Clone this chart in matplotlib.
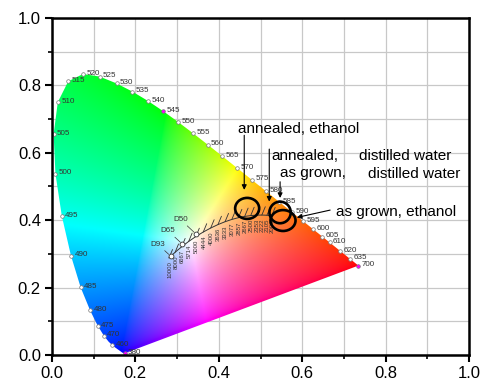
import numpy as np
import matplotlib
matplotlib.use("Agg")
import matplotlib.pyplot as plt
from matplotlib.patches import Polygon, Ellipse

plt.rcParams['font.family'] = ['Liberation Sans', 'DejaVu Sans']

# CIE 1931 spectral locus (wavelength nm, x, y)
wl = [380, 385, 390, 395, 400, 405, 410, 415, 420, 425, 430, 435, 440, 445, 450, 455,
      460, 465, 470, 475, 480, 485, 490, 495, 500, 505, 510, 515, 520, 525, 530, 535,
      540, 545, 550, 555, 560, 565, 570, 575, 580, 585, 590, 595, 600, 605, 610, 615,
      620, 625, 630, 635, 640, 645, 650, 655, 660, 665, 670, 675, 680, 685, 690, 695, 700]
loc_x = [0.1741, 0.1740, 0.1738, 0.1736, 0.1733, 0.1730, 0.1726, 0.1721, 0.1714, 0.1703,
         0.1689, 0.1669, 0.1644, 0.1611, 0.1566, 0.1510, 0.1440, 0.1355, 0.1241, 0.1096,
         0.0913, 0.0687, 0.0454, 0.0235, 0.0082, 0.0039, 0.0139, 0.0389, 0.0743, 0.1142,
         0.1547, 0.1929, 0.2296, 0.2658, 0.3016, 0.3373, 0.3731, 0.4087, 0.4441, 0.4788,
         0.5125, 0.5448, 0.5752, 0.6029, 0.6270, 0.6482, 0.6658, 0.6801, 0.6915, 0.7006,
         0.7079, 0.7140, 0.7190, 0.7230, 0.7260, 0.7283, 0.7300, 0.7311, 0.7320, 0.7327,
         0.7334, 0.7340, 0.7344, 0.7346, 0.7347]
loc_y = [0.0050, 0.0050, 0.0049, 0.0049, 0.0048, 0.0048, 0.0048, 0.0048, 0.0051, 0.0058,
         0.0069, 0.0086, 0.0109, 0.0138, 0.0177, 0.0227, 0.0297, 0.0399, 0.0578, 0.0868,
         0.1327, 0.2007, 0.2950, 0.4127, 0.5384, 0.6548, 0.7502, 0.8120, 0.8338, 0.8262,
         0.8059, 0.7816, 0.7543, 0.7243, 0.6923, 0.6589, 0.6245, 0.5896, 0.5547, 0.5202,
         0.4866, 0.4544, 0.4242, 0.3965, 0.3725, 0.3514, 0.3340, 0.3197, 0.3083, 0.2993,
         0.2920, 0.2859, 0.2809, 0.2770, 0.2740, 0.2717, 0.2700, 0.2689, 0.2680, 0.2673,
         0.2666, 0.2660, 0.2656, 0.2654, 0.2653]
labeled_wl = [380, 460, 470, 475, 480, 485, 490, 495, 500, 505, 510, 515, 520, 525, 530,
              535, 540, 545, 550, 555, 560, 565, 570, 575, 580, 585, 590, 595, 600, 605,
              610, 620, 635, 700]

# Planckian locus
cct = [10000, 8000, 6667, 5714, 5000, 4444, 4000, 3636, 3333, 3077, 2857, 2667, 2500,
       2353, 2222, 2105, 2000]
pl_x = [0.2807, 0.2952, 0.3110, 0.3277, 0.3450, 0.3627, 0.3805, 0.3980, 0.4150, 0.4313,
        0.4470, 0.4620, 0.4765, 0.4902, 0.5032, 0.5154, 0.5269]
pl_y = [0.2883, 0.3048, 0.3212, 0.3369, 0.3516, 0.3649, 0.3767, 0.3870, 0.3955, 0.4023,
        0.4075, 0.4112, 0.4137, 0.4150, 0.4153, 0.4147, 0.4133]

# Standard illuminants
ill_names = ['D93', 'D65', 'D50']
ill_x = [0.2848, 0.3127, 0.3457]
ill_y = [0.2932, 0.3290, 0.3585]

# Sample chromaticities (circles)
sample_x = [0.468, 0.547, 0.554]
sample_y = [0.435, 0.423, 0.399]

fig = plt.figure(figsize=(4.89, 3.83), dpi=100)
ax = fig.add_axes([52/489, 28/383, 417/489, 337/383])

# colour fill (CIE RGB primaries, max-normalised)
N = 500
gx = np.linspace(0.0, 0.76, N)
gy = np.linspace(0.002, 0.86, N)
GX, GY = np.meshgrid(gx, gy)
Xc = GX / GY
Yc = np.ones_like(GX)
Zc = (1 - GX - GY) / GY
M = np.array([[2.36461, -0.89654, -0.46807],
              [-0.51517, 1.42641, 0.08876],
              [0.00520, -0.01441, 1.00920]])
rgb = np.einsum('ij,jkl->kli', M, np.array([Xc, Yc, Zc]))
rgb = np.clip(rgb, 0, None)
rgb = rgb / np.maximum(rgb.max(axis=2, keepdims=True), 1e-9)
rgb = np.power(rgb, 0.62)
rgb = np.clip(rgb, 0, 1)
im = ax.imshow(rgb, extent=[gx[0], gx[-1], gy[0], gy[-1]], origin='lower',
               aspect='auto', zorder=1, interpolation='bilinear')
poly = Polygon(np.column_stack([loc_x, loc_y]), closed=True, transform=ax.transData,
               facecolor='none', edgecolor='none')
ax.add_patch(poly)
im.set_clip_path(poly)

# wavelength markers and labels
for w in labeled_wl:
    i = wl.index(w)
    fc = 'magenta' if w in (380, 545, 700) else 'white'
    ax.plot(loc_x[i], loc_y[i], 'o', ms=2.6, mfc=fc, mec='#777777', mew=0.5, zorder=4)
    ax.annotate(str(w), (loc_x[i], loc_y[i]), xytext=(2.5, 0.5), textcoords='offset points',
                fontsize=5.8, color='#333333', va='center', ha='left', zorder=5)

# Planckian locus
ax.plot(pl_x, pl_y, color='#333333', lw=0.7, zorder=3)
for t, px, py in zip(cct, pl_x, pl_y):
    ax.annotate('', xy=(px, py), xytext=(2.5, 6), textcoords='offset points',
                arrowprops=dict(arrowstyle='-', lw=0.6, color='#333333', shrinkA=0, shrinkB=0),
                zorder=3)
    ax.annotate(str(t), (px, py), xytext=(0.5, -2.5), textcoords='offset points',
                rotation=90, fontsize=4.3, color='#333333', ha='center', va='top', zorder=3)

# illuminants
ill_off = [(-4, 6), (-5, 7), (-6, 8)]
for n, ix, iy, off in zip(ill_names, ill_x, ill_y, ill_off):
    ax.plot(ix, iy, 'o', ms=3.5, mfc='white', mec='#333333', mew=0.6, zorder=4)
    ax.annotate(n, (ix, iy), xytext=off, textcoords='offset points', fontsize=5.8,
                color='#333333', ha='right', va='bottom',
                arrowprops=dict(arrowstyle='-', lw=0.5, color='#333333', shrinkA=0, shrinkB=2),
                zorder=4)

# sample circles
ell_w = [0.0576, 0.051, 0.060]
ell_h = [0.0623, 0.064, 0.062]
for sx, sy, w, h in zip(sample_x, sample_y, ell_w, ell_h):
    ax.add_patch(Ellipse((sx, sy), w, h, fill=False, lw=1.9, ec='black', zorder=6))

# annotations
txt_kw = dict(fontsize=11, color='black', ha='left', va='baseline', zorder=7)
ax.text(0.446, 0.660, 'annealed, ethanol', **txt_kw)
ax.text(0.526, 0.580, 'annealed,', **txt_kw)
ax.text(0.736, 0.580, 'distilled water', **txt_kw)
ax.text(0.546, 0.527, 'as grown,', **txt_kw)
ax.text(0.758, 0.524, 'distilled water', **txt_kw)
ax.text(0.682, 0.411, 'as grown, ethanol', **txt_kw)

arr = dict(arrowstyle='-|>', lw=0.8, color='black', mutation_scale=7, shrinkA=0, shrinkB=0)
ax.annotate('', xy=(0.461, 0.490), xytext=(0.461, 0.652), arrowprops=arr, zorder=7)
ax.annotate('', xy=(0.521, 0.455), xytext=(0.521, 0.611), arrowprops=arr, zorder=7)
ax.annotate('', xy=(0.547, 0.466), xytext=(0.547, 0.514), arrowprops=arr, zorder=7)
ax.annotate('', xy=(0.587, 0.408), xytext=(0.667, 0.430), arrowprops=arr, zorder=7)

# axes styling
ax.set_xlim(0, 1)
ax.set_ylim(0, 1)
ax.set_xticks(np.arange(0, 1.01, 0.2))
ax.set_yticks(np.arange(0, 1.01, 0.2))
ax.set_xticks(np.arange(0.1, 1.0, 0.2), minor=True)
ax.set_yticks(np.arange(0.1, 1.0, 0.2), minor=True)
ax.set_xticklabels(['0.0', '0.2', '0.4', '0.6', '0.8', '1.0'])
ax.set_yticklabels(['0.0', '0.2', '0.4', '0.6', '0.8', '1.0'])
ax.grid(which='both', color='#c8c8c8', lw=0.9, zorder=0)
ax.set_axisbelow(True)
for s in ax.spines.values():
    s.set_linewidth(1.8)
    s.set_color('black')
    s.set_zorder(8)
ax.tick_params(which='major', direction='out', length=5, width=1.5, labelsize=12,
               colors='black', top=False, right=False, pad=3)
ax.tick_params(which='minor', direction='out', length=3, width=1.2, top=False, right=False)

fig.savefig('out.png', dpi=100)
